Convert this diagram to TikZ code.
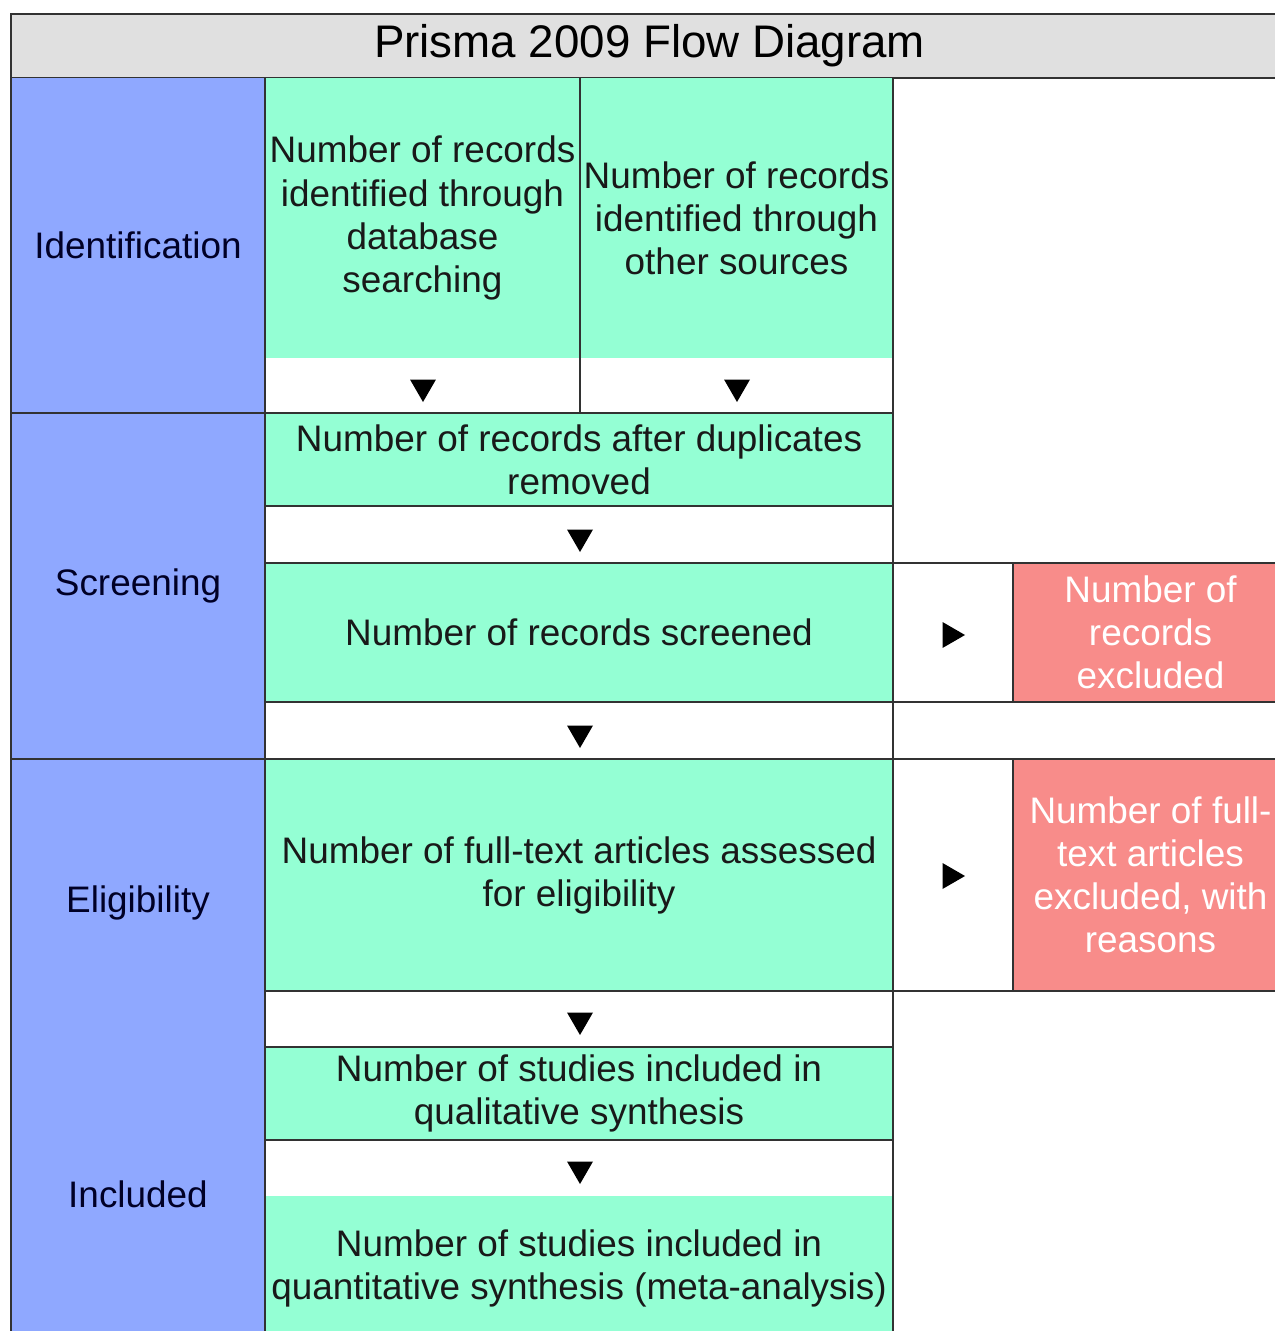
\documentclass[tikz,border=0pt]{standalone}
\usepackage{fontspec}
\setmainfont{Liberation Sans}
\usepackage{xcolor}
\usepackage{tikz}
\usetikzlibrary{positioning,shapes.geometric}

\definecolor{headgray}{RGB}{224,224,224}
\definecolor{stageblue}{RGB}{143,168,255}
\definecolor{boxgreen}{RGB}{148,255,212}
\definecolor{exclred}{RGB}{248,140,138}
\definecolor{linegray}{RGB}{50,50,50}

\tikzset{
  rule/.style={draw=linegray, line width=1.1pt},
  cell/.style={anchor=north west, inner sep=0pt, outer sep=0pt, align=center,
    font=\fontsize{21}{24.5}\selectfont},
  stage/.style={cell, fill=stageblue, minimum width=5.08cm, text=black!85!blue},
  box/.style={cell, fill=boxgreen, text=black!90},
  excl/.style={cell, fill=exclred, text=white, minimum width=5.5cm},
  tipdown/.style={regular polygon, regular polygon sides=3, shape border rotate=180,
    fill=black, inner sep=0pt, minimum size=0.6cm},
  tipright/.style={tipdown, shape border rotate=-90}
}

\begin{document}
\begin{tikzpicture}[x=1cm, y=-1cm]
  \useasboundingbox (0,0) rectangle (25.48,26.62);

  % header
  \node[cell, draw=linegray, line width=1.1pt, fill=headgray, minimum width=25.54cm,
        minimum height=1.28cm, font=\fontsize{26}{30}\selectfont] (title) at (0.22,0.28)
        {Prisma 2009 Flow Diagram};

  % stages
  \node[stage, minimum height=6.70cm] (ident)  at (0.22,1.56)  {Identification};
  \node[stage, minimum height=6.92cm] (screen) at (0.22,8.26)  {Screening};
  \node[stage, minimum height=5.76cm] (elig)   at (0.22,15.18) {Eligibility};
  \node[stage, minimum height=5.88cm] (incl)   at (0.22,20.94) {Included};

  % flow boxes
  \node[box, minimum width=6.30cm, minimum height=5.60cm] (src1) at (5.30,1.56)
        {Number of records\\identified through\\database\\searching};
  \node[box, minimum width=6.26cm, minimum height=5.60cm, anchor=west] (src2) [right=0pt of src1]
        {Number of records\\identified through\\other sources};
  \node[box, minimum width=12.56cm, minimum height=1.86cm] (dup)  at (5.30,8.26)
        {Number of records after duplicates\\removed};
  \node[box, minimum width=12.56cm, minimum height=2.78cm] (scr)  at (5.30,11.26)
        {Number of records screened};
  \node[box, minimum width=12.56cm, minimum height=4.64cm] (full) at (5.30,15.18)
        {Number of full-text articles assessed\\for eligibility};
  \node[box, minimum width=12.56cm, minimum height=1.86cm] (qual) at (5.30,20.94)
        {Number of studies included in\\qualitative synthesis};
  \node[box, minimum width=12.56cm, minimum height=2.90cm] (quant) at (5.30,23.92)
        {Number of studies included in\\quantitative synthesis (meta-analysis)};

  \node[excl, minimum height=2.78cm, anchor=west] (excl1) [right=2.4cm of scr]
        {Number of\\records\\excluded};
  \node[excl, minimum height=4.64cm, anchor=west] (excl2) [right=2.4cm of full]
        {Number of full-\\text articles\\excluded, with\\reasons};

  % arrow marks
  \node[tipdown]  (t1) at (8.46,7.74)  {};
  \node[tipdown]  (t2) at (14.74,7.74) {};
  \node[tipdown]  (t3) at (11.60,10.74) {};
  \node[tipdown]  (t4) at (11.60,14.66) {};
  \node[tipdown]  (t5) at (11.60,20.40) {};
  \node[tipdown]  (t6) at (11.60,23.38) {};
  \node[tipright] (t7) at (19.00,12.70) {};
  \node[tipright] (t8) at (19.00,17.52) {};

  % grid lines
  \draw[rule] (ident.north west) -- (incl.south west)
              (ident.north east) -- (incl.south east)
              (ident.south west) -- (ident.south east)
              (screen.south west) -- (screen.south east)
              (src1.north east) -- (src1.east |- dup.north)
              (src2.north east) -- (src2.east |- quant.south);
  \foreach \b in {dup,scr,full,qual}
    \draw[rule] (\b.north west) -- (\b.north east)
                (\b.south west) -- (\b.south east);
  \foreach \e/\b in {excl1/scr,excl2/full}
    \draw[rule] (\b.north east) -- (\e.north east)
                (\b.south east) -- (\e.south east)
                (\e.north west) -- (\e.south west);
\end{tikzpicture}
\end{document}
